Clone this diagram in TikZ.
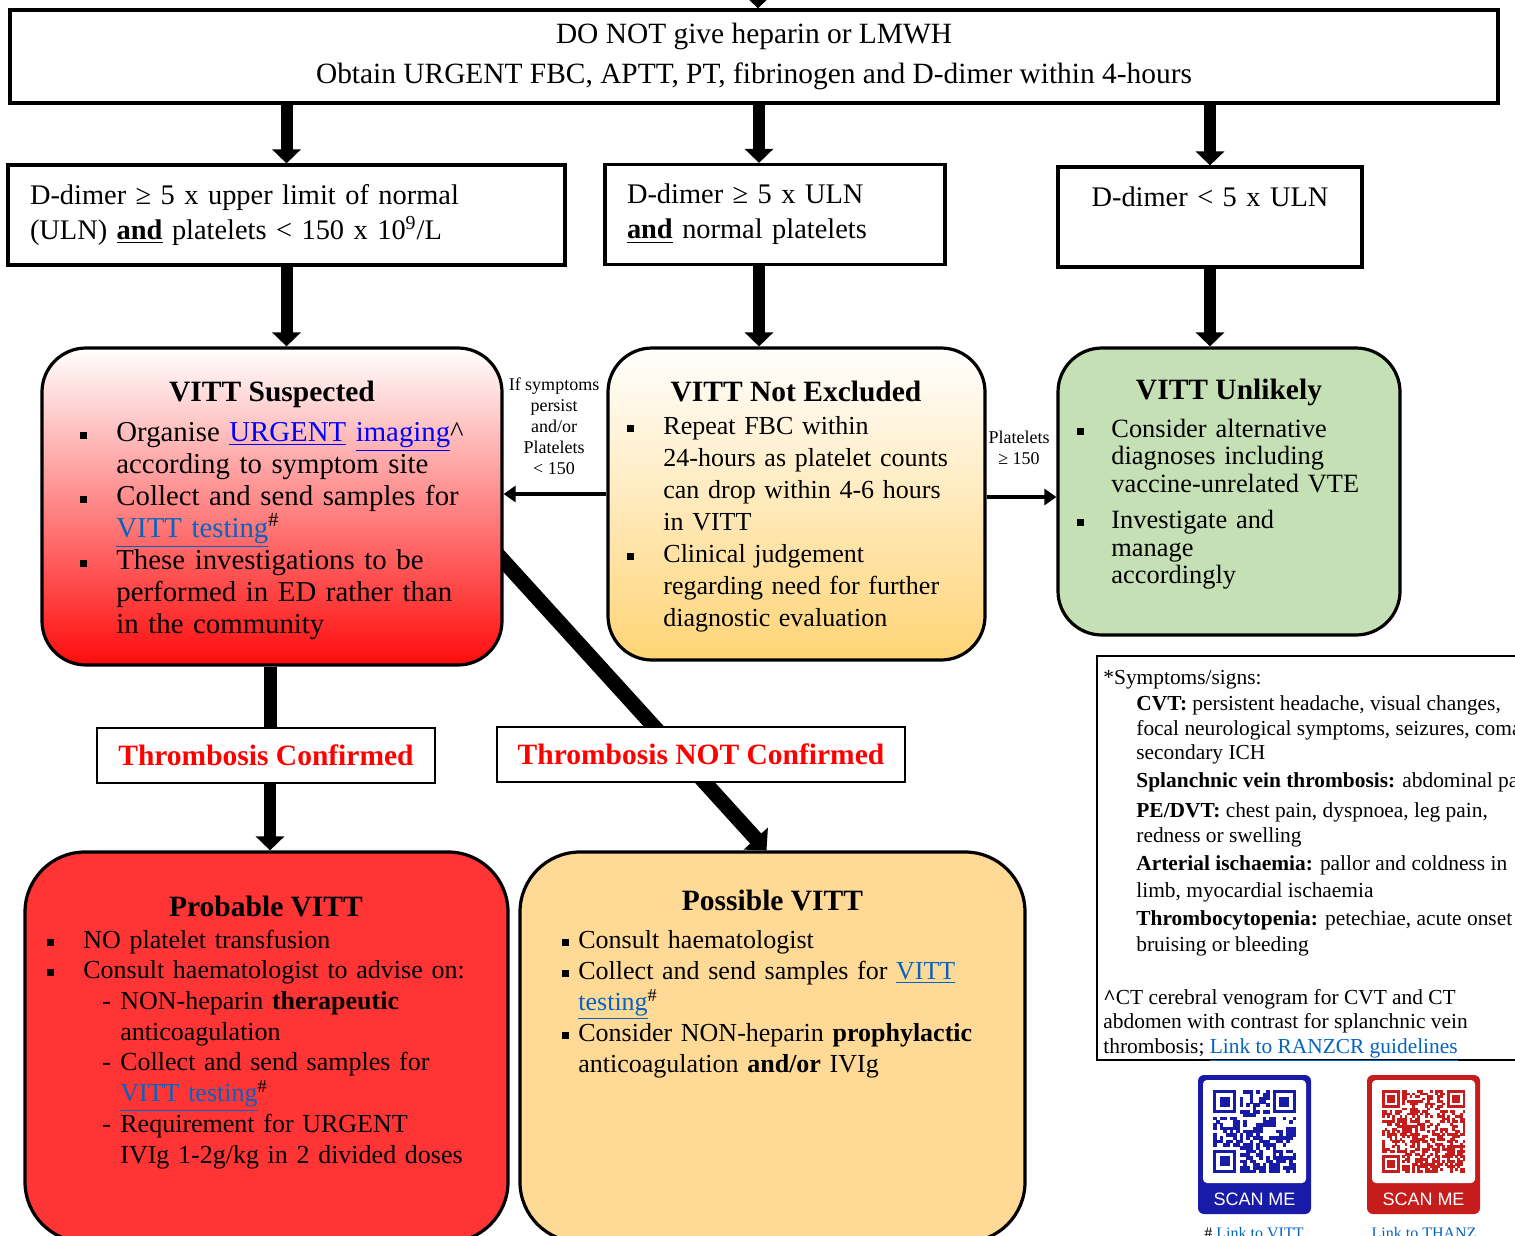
\documentclass[tikz,border=0pt]{standalone}
\usepackage{fontspec}
\setmainfont{Liberation Serif}
\newfontfamily\scanfont{Liberation Sans}
\usetikzlibrary{arrows.meta,positioning,backgrounds}

\definecolor{susred}{RGB}{255,12,12}
\definecolor{negold}{RGB}{255,212,118}
\definecolor{unlgreen}{RGB}{197,224,180}
\definecolor{probred}{RGB}{255,52,52}
\definecolor{posspeach}{RGB}{255,217,150}
\definecolor{linkblue}{RGB}{5,99,193}
\definecolor{qrblue}{RGB}{24,26,168}
\definecolor{qrred}{RGB}{198,28,28}

\newcommand{\sqb}{\rule[1.3pt]{3.5pt}{3.5pt}}
\newcommand{\itm}[2][18pt]{\par\noindent\hangindent=#1\hangafter=1\makebox[#1][l]{\sqb}#2}
\newcommand{\dsh}[1]{\par\noindent\hangindent=36.5pt\hangafter=1\hspace*{27.5pt}\makebox[9pt][l]{-}#1}
\newcommand{\lnk}[2][linkblue]{\textcolor{#1}{\underline{#2}}}

% QR badge: left x, top y, modules, colour, seed, name
\newcommand{\qrbadge}[6]{%
  \fill[#4, rounded corners=3pt] (#1,#2) rectangle ++(113,139);
  \fill[white, rounded corners=2pt] ({#1+5},{#2+5}) rectangle ++(103,103);
  \node[scanme] (#6) at ({#1+56.5},{#2+124}) {SCAN ME};
  \pgfmathsetseed{#5}
  \pgfmathsetmacro\qrm{83/#3}
  \pgfmathtruncatemacro\qrlast{#3-1}
  \foreach \i in {0,...,\qrlast} {
    \foreach \j in {0,...,\qrlast} {
      \pgfmathtruncatemacro\qrfind{((\i<8)&&(\j<8))||((\i>\qrlast-8)&&(\j<8))||((\i<8)&&(\j>\qrlast-8))}
      \ifnum\qrfind=0
        \pgfmathrandominteger{\qrbit}{0}{1}
        \ifnum\qrbit=1
          \fill[#4] ({#1+15+\i*\qrm},{#2+15+\j*\qrm}) rectangle ++({\qrm+0.3},{\qrm+0.3});
        \fi
      \fi
    }
  }
  \foreach \fx/\fy in {0/0,1/0,0/1} {
    \pgfmathsetmacro\qrx{#1+15+\fx*(#3-7)*\qrm}
    \pgfmathsetmacro\qry{#2+15+\fy*(#3-7)*\qrm}
    \fill[#4] (\qrx,\qry) rectangle ++({7*\qrm},{7*\qrm});
    \fill[white] ({\qrx+\qrm},{\qry+\qrm}) rectangle ++({5*\qrm},{5*\qrm});
    \fill[#4] ({\qrx+2*\qrm},{\qry+2*\qrm}) rectangle ++({3*\qrm},{3*\qrm});
  }
}

\begin{document}
\begin{tikzpicture}[x=0.5pt,y=-0.5pt,
  topbox/.style={draw, line width=1.6pt, fill=white, align=center, inner sep=0pt,
    minimum width=744pt, minimum height=46.5pt, font=\fontsize{14.7}{20}\selectfont},
  dbox/.style={draw, line width=1.6pt, fill=white, inner xsep=11pt, inner ysep=0pt,
    minimum height=50pt, font=\fontsize{14.2}{17.5}\selectfont},
  rbox/.style={draw, line width=1.6pt, rounded corners=22pt, inner sep=0pt},
  title/.style={font=\fontsize{14.75}{16}\selectfont\bfseries, anchor=base, inner sep=0pt},
  body/.style={font=\fontsize{13}{16}\selectfont, align=left, anchor=north west, inner sep=0pt},
  cbox/.style={draw, line width=1.3pt, fill=white, text=red, inner sep=0pt,
    font=\fontsize{14.75}{16}\selectfont\bfseries, minimum height=27.5pt},
  small/.style={font=\fontsize{9}{10.5}\selectfont, align=center, inner sep=0pt},
  bigarrow/.style={line width=6pt, -{Triangle[width=14pt,length=7pt]}},
  bigline/.style={line width=6.5pt},
  sidearrow/.style={line width=2pt, -{Triangle[width=8pt,length=6pt]}},
  diagarrow/.style={line width=7.5pt, -{Triangle[width=16pt,length=8pt]}},
  scanme/.style={font=\scanfont\fontsize{9}{10}\selectfont, text=white, inner sep=0pt},
  linkto/.style={font=\fontsize{8}{9}\selectfont, anchor=base, inner sep=0pt}]

\useasboundingbox (0,0) rectangle (1515,1236);

% top
\node[topbox] (top) at (754,56.5) {DO NOT give heparin or LMWH\\Obtain URGENT FBC, APTT, PT, fibrinogen and D-dimer within 4-hours};
\coordinate (topin) at (758,-40);

% D-dimer boxes
\node[dbox, text width=256.5pt, align=left, minimum width=278.5pt] (dd1) at (286.5,215)
  {D-dimer ≥ 5 x upper limit of normal\\(ULN) \underline{\textbf{and}} platelets < 150 x 10\textsuperscript{9}/L};
\node[dbox, text width=148pt, align=left, minimum width=170pt] (dd2) at (775,214.5)
  {D-dimer ≥ 5 x ULN\\\underline{\textbf{and}} normal platelets};
\node[dbox, text width=130pt, align=center, minimum width=152pt, text height=10pt, text depth=21pt] (dd3) at (1210,217)
  {D-dimer < 5 x ULN};

% VITT suspected
\node[rbox, minimum width=230pt, minimum height=158.5pt, top color=white, bottom color=susred] (sus) at (272,506.5) {};
\node[title] (sus-t) at (272,401) {VITT Suspected};
\node[body, text width=215pt, font=\fontsize{14.4}{16}\selectfont] (sus-b) at (80,409) {%
  \itm{Organise \lnk[blue]{URGENT} \lnk[blue]{imaging}\textasciicircum\newline according to symptom site}
  \itm{Collect and send samples for\newline \lnk{VITT testing}\textsuperscript{\#}}
  \itm{These investigations to be\newline performed in ED rather than\newline in the community}\par};

% VITT not excluded
\node[rbox, minimum width=188.5pt, minimum height=156pt, top color=white, bottom color=negold] (ne) at (796.5,504) {};
\node[title] (ne-t) at (796,401) {VITT Not Excluded};
\node[body, text width=185pt] (ne-b) at (627,402) {%
  \itm{Repeat FBC within\newline 24-hours as platelet counts\newline can drop within 4-6 hours\newline in VITT}
  \itm{Clinical judgement\newline regarding need for further\newline diagnostic evaluation}\par};

% VITT unlikely
\node[rbox, minimum width=171pt, minimum height=143.5pt, fill=unlgreen] (unl) at (1229,491.5) {};
\node[title] (unl-t) at (1229,399) {VITT Unlikely};
\node[body, text width=160pt, font=\fontsize{13.2}{13.75}\selectfont] (unl-b) at (1077,409.5) {%
  \itm[17pt]{Consider alternative\newline diagnoses including\newline vaccine-unrelated VTE}\par\vspace{4.5pt}
  \itm[17pt]{Investigate and\newline manage\newline accordingly}\par};

% side labels
\node[small] (persist) at (554,426) {If symptoms\\persist\\and/or\\Platelets\\< 150};
\node[small] (plt) at (1019,448) {Platelets\\≥ 150};

% thrombosis boxes
\node[cbox, minimum width=169pt] (conf) at (266,755.5) {Thrombosis Confirmed};
\node[cbox, minimum width=204pt] (nconf) at (701,754.5) {Thrombosis NOT Confirmed};

% probable VITT
\node[rbox, rounded corners=30pt, minimum width=241.5pt, minimum height=195pt, fill=probred] (prob) at (266.5,1047) {};
\node[title] (prob-t) at (266,916) {Probable VITT};
\node[body, text width=230pt, font=\fontsize{13}{15.35}\selectfont] (prob-b) at (47,917) {%
  \itm{NO platelet transfusion}
  \itm{Consult haematologist to advise on:}
  \dsh{NON-heparin \textbf{therapeutic}\newline anticoagulation}
  \dsh{Collect and send samples for\newline \lnk{VITT testing}\textsuperscript{\#}}
  \dsh{Requirement for URGENT\newline IVIg 1-2g/kg in 2 divided doses}\par};

% possible VITT
\node[rbox, rounded corners=30pt, minimum width=252.5pt, minimum height=195pt, fill=posspeach] (poss) at (772.5,1047) {};
\node[title] (poss-t) at (772.5,910) {Possible VITT};
\node[body, text width=235pt, font=\fontsize{13}{15.5}\selectfont] (poss-b) at (562,917) {%
  \itm[8pt]{Consult haematologist}
  \itm[8pt]{Collect and send samples for \lnk{VITT}\newline \lnk{testing}\textsuperscript{\#}}
  \itm[8pt]{Consider NON-heparin \textbf{prophylactic}\newline anticoagulation \textbf{and/or} IVIg}\par};

% symptoms box
\node[draw, line width=1pt, inner sep=0pt, minimum width=216.5pt, minimum height=202pt] (symp) at (1313.5,858) {};
\node[align=left, anchor=north west, inner sep=0pt, font=\fontsize{10.7}{12}\selectfont] (symp-t) at (1103,668) {%
  \rule{0pt}{8pt}*Symptoms/signs:\\[1pt]
  \hspace*{16.5pt}\textbf{CVT:} persistent headache, visual changes,\\[0.5pt]
  \hspace*{16.5pt}focal neurological symptoms, seizures, coma\\
  \hspace*{16.5pt}secondary ICH\\[2pt]
  \hspace*{16.5pt}\textbf{Splanchnic vein thrombosis:} abdominal pain\\[3pt]
  \hspace*{16.5pt}\textbf{PE/DVT:} chest pain, dyspnoea, leg pain,\\[0.5pt]
  \hspace*{16.5pt}redness or swelling\\[2pt]
  \hspace*{16.5pt}\textbf{Arterial ischaemia:} pallor and coldness in\\[1.5pt]
  \hspace*{16.5pt}limb, myocardial ischaemia\\[2pt]
  \hspace*{16.5pt}\textbf{Thrombocytopenia:} petechiae, acute onset\\[1pt]
  \hspace*{16.5pt}bruising or bleeding\\[14.5pt]
  \textbf{\textasciicircum}CT cerebral venogram for CVT and CT\\
  abdomen with contrast for splanchnic vein\\[0.5pt]
  thrombosis; \lnk{Link to RANZCR guidelines}};

% QR codes
\qrbadge{1198}{1075}{25}{qrblue}{7}{scanvitt}
\qrbadge{1367}{1075}{33}{qrred}{19}{scanthanz}
\node[linkto] (vittlink) at (1254,1238) {\# \textcolor{linkblue}{\underline{Link to VITT}}};
\node[linkto] (thanzlink) at (1424,1238) {\textcolor{linkblue}{\underline{Link to THANZ}}};

% connectors
\begin{scope}[on background layer]
  \fill[white] (0,0) rectangle (1515,1236);
  \draw[bigarrow] (topin) -- (topin |- top.north);
  \draw[bigarrow] (dd1.north |- top.south) -- (dd1.north);
  \draw[bigarrow] ([xshift=-8pt]dd2.north |- top.south) -- ([xshift=-8pt]dd2.north);
  \draw[bigarrow] (dd3.north |- top.south) -- (dd3.north);
  \draw[bigarrow] (dd1.south) -- (dd1.south |- sus.north);
  \draw[bigarrow] ([xshift=-8pt]dd2.south) -- ([xshift=-8pt]dd2.south |- ne.north);
  \draw[bigarrow] (dd3.south) -- (dd3.south |- unl.north);
  \draw[sidearrow] ([yshift=5pt]ne.west) -- ([yshift=5pt]ne.west -| sus.east);
  \draw[sidearrow] ([yshift=3.5pt]ne.east) -- ([yshift=3.5pt]ne.east -| unl.west);
  \draw[bigline] ([xshift=2pt]conf.north |- sus.south) -- ([xshift=2pt]conf.north);
  \draw[bigarrow] ([xshift=2pt]conf.south) -- ([xshift=2pt]conf.south |- prob.north);
  \draw[diagarrow] ([xshift=-7.5pt,yshift=-19pt]sus.east) -- ([xshift=-3pt]poss.north);
\end{scope}
\end{tikzpicture}
\end{document}
